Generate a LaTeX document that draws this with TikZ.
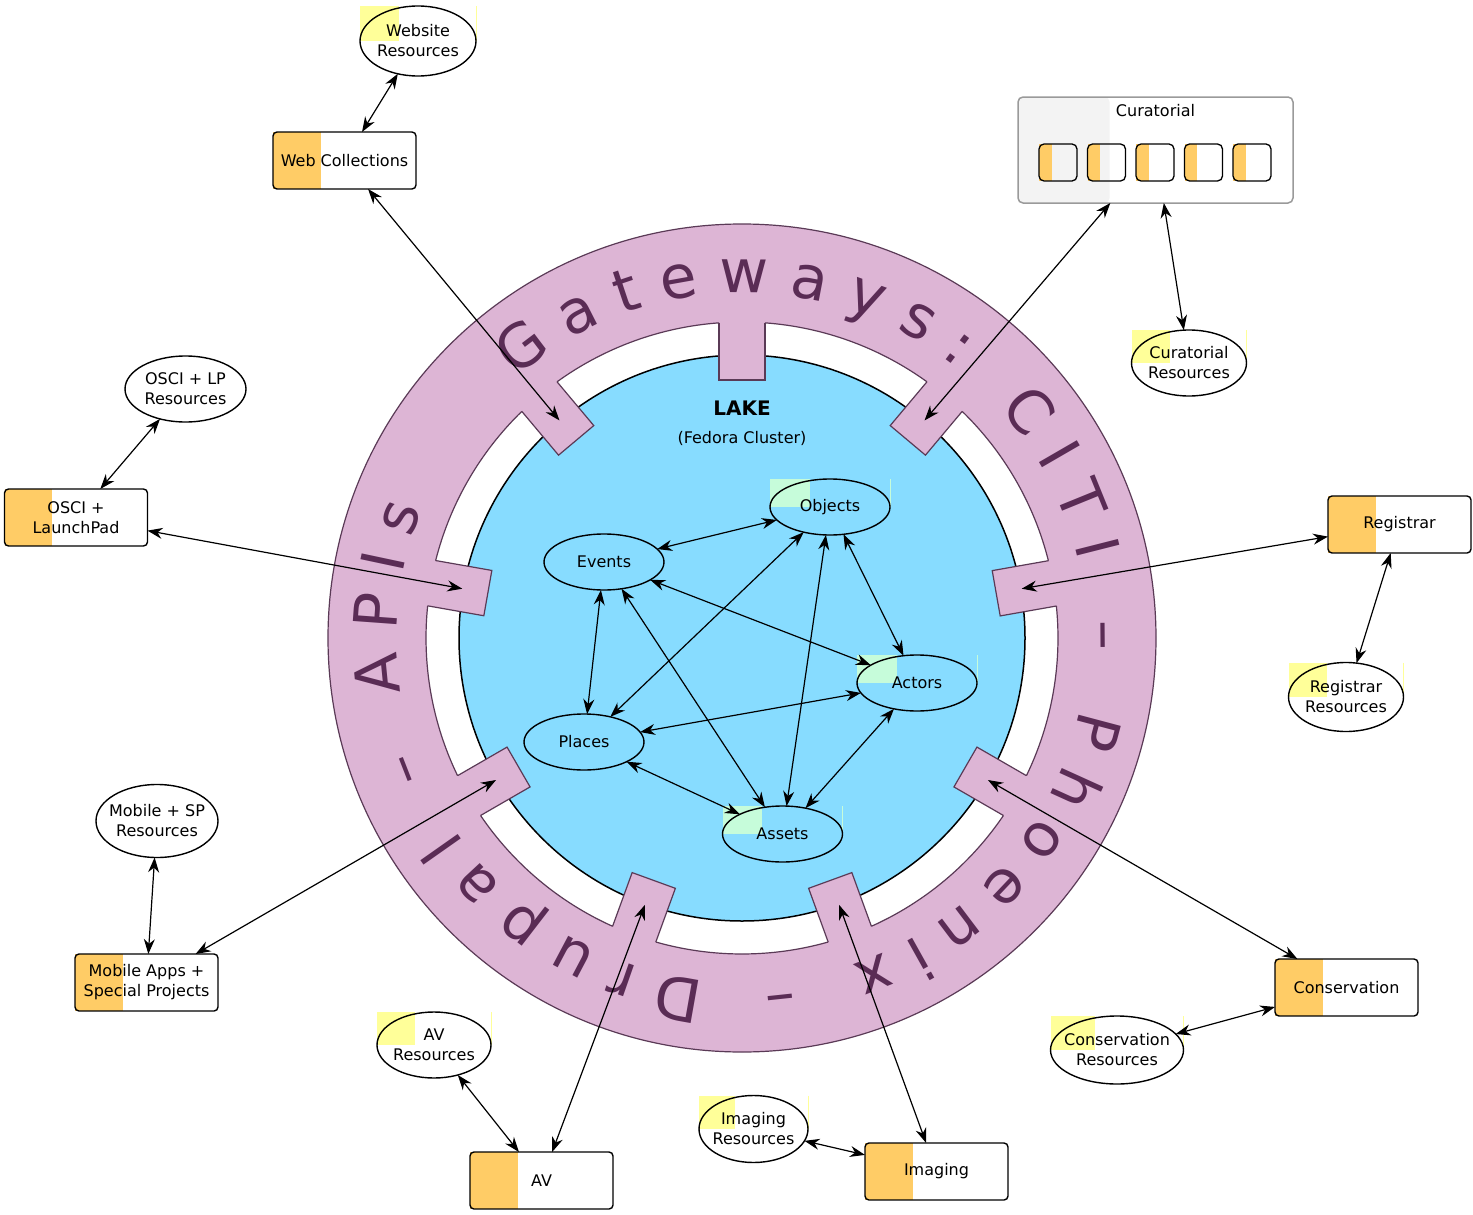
\documentclass[tikz,border=0pt]{standalone}
\usepackage{fontspec}
\setmainfont{DejaVu Sans}
\usetikzlibrary{arrows.meta,calc,decorations.text,shapes.geometric}
\definecolor{lakeblue}{HTML}{87DCFF}
\definecolor{ringfill}{HTML}{DDB5D5}
\definecolor{ringline}{HTML}{5A3A56}
\definecolor{ringtext}{HTML}{5A2C55}
\definecolor{boxorange}{HTML}{FFCC66}
\definecolor{resyellow}{HTML}{FFFF99}
\definecolor{entmint}{HTML}{C6FCDA}
\definecolor{grouppale}{HTML}{F3F3F3}
\definecolor{groupline}{HTML}{9A9A9A}
\pgfdeclarelayer{back}
\pgfdeclarelayer{tint}
\pgfsetlayers{back,tint,main}
\newcommand\labelfont{\fontsize{16}{20}\selectfont}
\newcommand\ringfont{\fontsize{60}{72}\selectfont}
\tikzset{
  unit/.style={draw=black, line width=1.4pt, rounded corners=4pt,
    minimum width=143pt, minimum height=57pt, inner sep=0pt, outer sep=0pt,
    font=\labelfont, align=center},
  resource/.style={ellipse, draw=black, line width=1.4pt, inner xsep=-12pt,
    inner ysep=-6pt, outer sep=0pt, font=\labelfont, align=center},
  entity/.style={ellipse, draw=black, line width=1.4pt, minimum width=120pt,
    minimum height=56pt, inner sep=0pt, outer sep=0pt, font=\labelfont},
  slot/.style={draw=black, line width=1.3pt, rounded corners=5pt,
    minimum width=38pt, minimum height=37pt, inner sep=0pt, outer sep=0pt},
  group/.style={draw=groupline, line width=1.5pt, rounded corners=5pt,
    minimum width=275pt, minimum height=106pt, inner sep=0pt, outer sep=0pt},
  link/.style={{Stealth[length=15pt,width=11pt]}-{Stealth[length=15pt,width=11pt]},
    line width=1.2pt},
  plain/.style={font=\labelfont, inner sep=0pt},
}
\begin{document}
\begin{tikzpicture}[x=1pt, y=1pt]
\useasboundingbox (0,0) rectangle (1473,-1215);
\coordinate (C) at (742,-638);

% ---- the lake and the gateway ring ----
\begin{pgfonlayer}{back}
  \filldraw[fill=lakeblue, draw=black, line width=1.5pt] (C) circle[radius=283];
  \foreach \a in {10,50,...,330}{
    \filldraw[fill=ringfill, draw=ringline, line width=1.2pt, rotate around={\a:(C)}]
      ($(C)+(258,-23)$) rectangle ($(C)+(340,23)$);
  }
  \fill[ringfill, even odd rule] (C) circle[radius=414] (C) circle[radius=316];
  \draw[ringline, line width=1.2pt] (C) circle[radius=414];
  \foreach \a in {10,50,...,330}{
    \draw[ringline, line width=1.2pt] ($(C)+({\a+4.17}:316)$)
      arc[start angle={\a+4.17}, end angle={\a+35.83}, radius=316];
  }
  \path[decorate, decoration={text along path, text color=ringtext,
      text align=fit to path,
      text={|\ringfont|Gateways: CITI – Phoenix – Drupal – APIs}}]
    ($(C)+(131:345)$) arc[start angle=131, end angle=-202, radius=345];
\end{pgfonlayer}

% gateway ports where the connectors land
\foreach \a in {130,50,170,10,-150,-30,-110,-70}{
  \coordinate (g\a) at ($(C)+(\a:284)$);
}

\node[plain, font=\fontsize{20}{24}\selectfont\bfseries] (lake) at (742,-408) {LAKE};
\node[plain] (fedora) at (742,-438) {(Fedora Cluster)};

% ---- entities inside the lake ----
\node[entity] (objects) at (830,-507) {Objects};
\node[entity] (events)  at (604,-562) {Events};
\node[entity] (actors)  at (917,-683) {Actors};
\node[entity] (places)  at (584,-742) {Places};
\node[entity] (assets)  at (782.5,-834) {Assets};

% ---- departmental units ----
\node[unit] (webcoll) at (344.5,-160.5) {Web Collections};
\node[unit] (osci) at (76,-517.5) {OSCI +\\LaunchPad};
\node[unit] (mobile) at (146.5,-982.5) {Mobile Apps +\\Special Projects};
\node[unit] (av) at (541.5,-1180.5) {AV};
\node[unit] (imaging) at (936.5,-1171.5) {Imaging};
\node[unit] (conservation) at (1346.5,-987.5) {Conservation};
\node[unit] (registrar) at (1399.5,-524.5) {Registrar};

\node[group] (curatorial) at (1155.5,-150) {};
\node[plain] (curtitle) at (1155.5,-111) {Curatorial};
\foreach \i/\x in {1/1058,2/1106.5,3/1155,4/1203.5,5/1252}{
  \node[slot] (cur\i) at (\x,-162.5) {};
}

% ---- resource stores ----
\node[resource, minimum width=116pt, minimum height=70pt] (webres) at (418,-41) {Website\\Resources};
\node[resource, minimum width=121pt, minimum height=66pt] (oscires) at (185.5,-389) {OSCI + LP\\Resources};
\node[resource, minimum width=122pt, minimum height=73pt] (mobres) at (157,-821) {Mobile + SP\\Resources};
\node[resource, minimum width=114pt, minimum height=66pt] (avres) at (434,-1045) {AV\\Resources};
\node[resource, minimum width=109pt, minimum height=67pt] (imgres) at (753.5,-1129) {Imaging\\Resources};
\node[resource, minimum width=133pt, minimum height=68pt] (consres) at (1117,-1050) {Conservation\\Resources};
\node[resource, minimum width=115pt, minimum height=69pt] (regres) at (1346,-697) {Registrar\\Resources};
\node[resource, minimum width=115pt, minimum height=66pt] (curres) at (1189,-363) {Curatorial\\Resources};

% ---- tints behind the shapes ----
\begin{pgfonlayer}{tint}
  \fill[grouppale, rounded corners=5pt] (curatorial.south west) rectangle ($(curatorial.north west)!0.333!(curatorial.north east)$);
  \foreach \n in {webres,avres,imgres,consres,regres,curres}{
    \fill[resyellow] (\n.west |- \n.north) rectangle ($(\n.west)!0.333!(\n.east)$);
    \draw[resyellow, line width=1pt] (\n.east |- \n.north) -- (\n.east);
  }
  \foreach \n in {objects,actors,assets}{
    \fill[entmint] (\n.west |- \n.north) rectangle ($(\n.west)!0.333!(\n.east)$);
    \draw[entmint, line width=1pt] (\n.east |- \n.north) -- (\n.east);
  }
  \foreach \n in {webcoll,osci,mobile,av,imaging,conservation,registrar,cur1,cur2,cur3,cur4,cur5}{
    \fill[boxorange] (\n.south west) rectangle ($(\n.north west)!0.333!(\n.north east)$);
  }
\end{pgfonlayer}

% ---- connectors ----
\draw[link] (webres) -- (webcoll);
\draw[link] (webcoll) -- (g130);
\draw[link] (oscires) -- (osci);
\draw[link] (osci) -- (g170);
\draw[link] (mobres) -- (mobile);
\draw[link] (mobile) -- (g-150);
\draw[link] (avres) -- (av);
\draw[link] (av) -- (g-110);
\draw[link] (imgres) -- (imaging);
\draw[link] (imaging) -- (g-70);
\draw[link] (consres) -- (conservation);
\draw[link] (conservation) -- (g-30);
\draw[link] (registrar) -- (g10);
\draw[link] (registrar) -- (regres);
\draw[link] (curatorial) -- (g50);
\draw[link] (curatorial) -- (curres);

\draw[link] (events) -- (objects);
\draw[link] (events) -- (places);
\draw[link] (events) -- (actors);
\draw[link] (events) -- (assets);
\draw[link] (objects) -- (places);
\draw[link] (objects) -- (assets);
\draw[link] (objects) -- (actors);
\draw[link] (places) -- (actors);
\draw[link] (places) -- (assets);
\draw[link] (actors) -- (assets);
\end{tikzpicture}
\end{document}
